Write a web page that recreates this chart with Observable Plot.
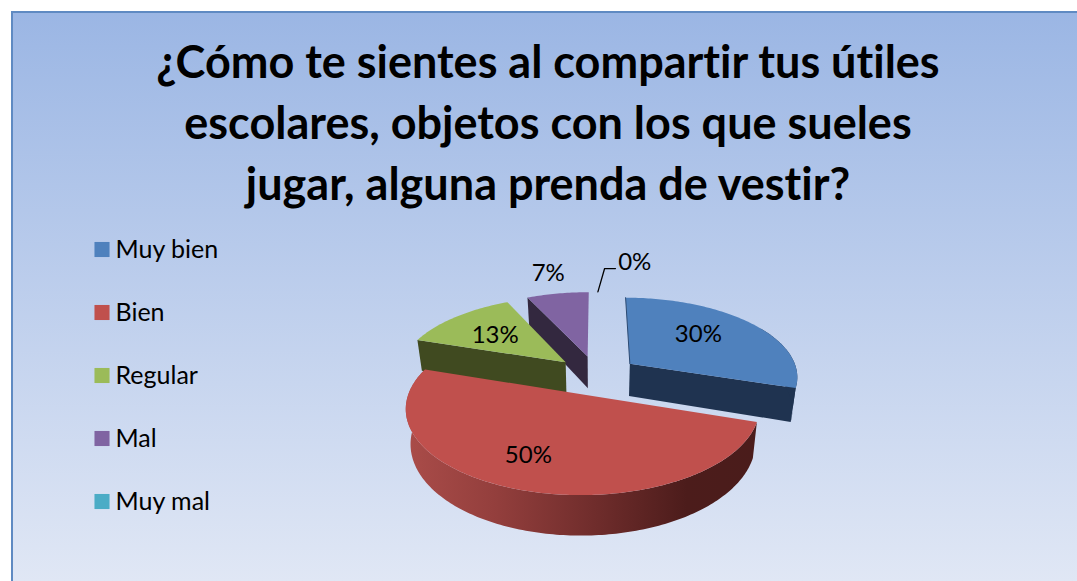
<!DOCTYPE html>
<html lang="es">
<head>
<meta charset="utf-8">
<script src="https://cdn.jsdelivr.net/npm/d3@7"></script>
<script src="https://cdn.jsdelivr.net/npm/@observablehq/plot@0.6"></script>
<style>
  html, body { margin: 0; padding: 0; background: #fff; overflow: hidden; }
  #frame {
    position: absolute; left: 11px; top: 11px; width: 1066px; height: 570px;
    box-sizing: border-box; border-left: 2px solid #5f8ac2; border-top: 2px solid #5f8ac2;
    background: linear-gradient(#9bb6e4, #e0e7f5);
  }
  #chart { position: absolute; left: 0; top: 0; width: 1077px; height: 581px; font-family: Lato, sans-serif; color: #000; font-variant-ligatures: none; }
  h1 {
    position: absolute; left: 0; top: 31px; width: 1077px; height: 184px; margin: 0;
    box-sizing: border-box; padding-left: 19px;
    text-align: center; white-space: nowrap; font: bold 45px/61px Lato, sans-serif; color: #000;
    font-variant-ligatures: none;
  }
  #plot { position: absolute; left: 0; top: 215px; }
</style>
</head>
<body>
<div id="frame"></div>
<div id="chart">
  <h1 id="title"></h1>
  <div id="plot"></div>
</div>
<script>
// ---- data ----
const titleLines = ["¿Cómo te sientes al compartir tus útiles", "escolares, objetos con los que sueles", "jugar, alguna prenda de vestir?"];
const categories = ["Muy bien", "Bien", "Regular", "Mal", "Muy mal"];
const percentages = [30, 50, 13, 7, 0];

// ---- styles ----
const topColors = ["#4f81bd", "#c0504d", "#9bbb59", "#8064a2", "#4bacc6"];
const faceColors = ["#1f3350", "#4a1c1b", "#404a20", "#33283f", "#1e4a55"];

// ---- layout of the tilted pie (perspective projection of a unit disc) ----
const cx = 596, cy = 374.5, A = 168.5, B = 79, persp = 0.15, depth = 33, taper = 0.025, explode = 0.25;
const labelAngles = [47.5, 203, 309.5, 347.5, 10.4];
const labelRadii = [0.615, 0.70, 0.60, 1.39, 1.60];
const leaderAngles = [0.56, 2.4, 5.6];
const leaderRadii = [1.0, 1.44, 1.445];
const rad = d => d * Math.PI / 180;

function project(X, V, z = 0) {
  const s = 1 / (1 + persp * V);
  return { x: cx + A * X * s * (1 - taper * z), y: cy - B * V * s + depth * z * s };
}

// slices from the values
let acc = 0;
const slices = percentages.map((p, i) => {
  const a0 = acc * 3.6; acc += p; const a1 = acc * 3.6, mid = (a0 + a1) / 2;
  return { i, a0, a1, ex: explode * Math.sin(rad(mid)), ev: explode * Math.cos(rad(mid)) };
});
const polar = (sl, deg, r, z = 0) => project(sl.ex + r * Math.sin(rad(deg)), sl.ev + r * Math.cos(rad(deg)), z);
const rim = (sl, a0, a1, z = 0) => {
  const n = Math.max(2, Math.ceil(Math.abs(a1 - a0)));
  return d3.range(n + 1).map(k => polar(sl, a0 + (a1 - a0) * k / n, 1, z));
};
const topFace = sl => [polar(sl, 0, 0), ...rim(sl, sl.a0, sl.a1)];
const cutFace = (sl, deg) => [polar(sl, 0, 0), polar(sl, deg, 1), polar(sl, deg, 1, 1), polar(sl, 0, 0, 1)];
const wall = (sl, a0 = sl.a0, a1 = sl.a1) => [...rim(sl, a0, a1), ...rim(sl, a1, a0, 1)];
const poly = (pts, fill) => Plot.line(pts, { x: "x", y: "y", fill, stroke: "none" });

const [blue, red, green, purple] = slices;
const labelData = slices.map((sl, i) => ({ ...polar(sl, labelAngles[i], labelRadii[i]), text: percentages[i] + "%" }));
const leader = leaderAngles.map((a, k) => polar(slices[4], a, leaderRadii[k]));
const legendData = categories.map((name, i) => ({ name, color: topColors[i], y: 249 + 63 * i }));

function defs() {
  const d = d3.create("svg:defs");
  const g = d.append("linearGradient").attr("id", "redWall").attr("x1", 0).attr("x2", 1).attr("y1", 0).attr("y2", 0);
  [[0, "#aa4c49"], [0.25, "#943f3d"], [0.55, "#6e2c2b"], [0.8, "#4c1c1b"], [1, "#4a1c1b"]]
    .forEach(([o, c]) => g.append("stop").attr("offset", o).attr("stop-color", c));
  return d.node();
}

document.getElementById("title").innerHTML = titleLines.join("<br>");

const chart = Plot.plot({
  width: 1077, height: 366, margin: 0,
  style: { background: "transparent", fontFamily: "Lato, sans-serif" },
  x: { domain: [0, 1077], range: [0, 1077], axis: null },
  y: { domain: [215, 581], range: [0, 366], axis: null },
  marks: [
    defs,
    poly(cutFace(purple, purple.a0), faceColors[3]),
    poly(topFace(purple), topColors[3]),
    poly(cutFace(green, green.a0), faceColors[2]),
    poly(topFace(green), topColors[2]),
    poly(cutFace(blue, blue.a1), faceColors[0]),
    poly(wall(blue, 60), faceColors[0]),
    poly(topFace(blue), topColors[0]),
    Plot.line([polar(blue, 0, 0), polar(blue, 0, 1)], { x: "x", y: "y", stroke: "#2c4a72", strokeWidth: 1 }),
    poly(wall(red), "url(#redWall)"),
    poly(topFace(red), topColors[1]),
    Plot.line(leader, { x: "x", y: "y", stroke: "#000", strokeWidth: 1.3 }),
    Plot.text(labelData, { x: "x", y: "y", text: "text", fontSize: 24, fill: "#000" }),
    Plot.dot(legendData, { x: () => 101.5, y: "y", symbol: "square", r: 8.5, fill: "color", stroke: "none" }),
    Plot.text(legendData, { x: () => 115, y: "y", text: "name", textAnchor: "start", fontSize: 25, fill: "#000" })
  ]
});
document.getElementById("plot").append(chart);
</script>
</body>
</html>
